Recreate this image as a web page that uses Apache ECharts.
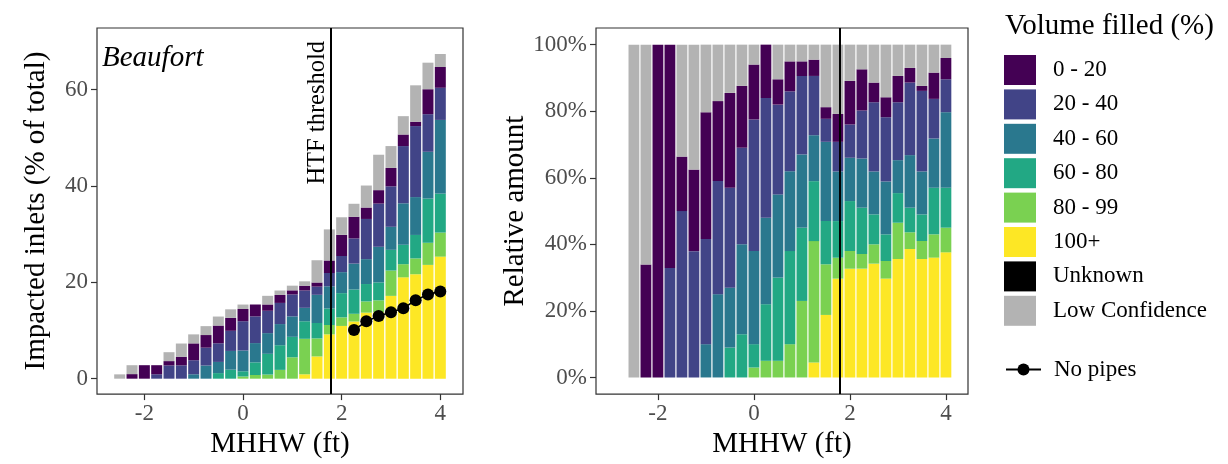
<!DOCTYPE html>
<html><head><meta charset="utf-8">
<script src="https://cdn.jsdelivr.net/npm/echarts@6/dist/echarts.min.js"></script>
<style>html,body{margin:0;padding:0;background:#fff}#c{width:1228px;height:464px}</style>
</head><body><div id="c"></div>
<script>
// ---- data ----
const mhhw = [-2.5,-2.25,-2,-1.75,-1.5,-1.25,-1,-0.75,-0.5,-0.25,0,0.25,0.5,0.75,1,1.25,1.5,1.75,2,2.25,2.5,2.75,3,3.25,3.5,3.75,4];
const vol100     = [0,0,0,0,0,0,0,0,0,0,0,0,0,0,0,0.91,4.62,9.2,10.95,11.87,13.71,13.81,17.19,21.04,21.68,23.62,25.34];
const vol80      = [0,0,0,0,0,0,0,0,0,0,0.46,0.77,0.86,1.83,4.44,7.37,3.74,1.95,1.78,1.6,2.33,2.46,5.26,2.73,3.29,4.59,4.99];
const vol60      = [0,0,0,0,0,0,0,0,1.16,1.87,1.08,2.62,4.3,5.12,4.25,3.64,3.2,3.41,5.03,5.05,3.61,3.72,4.3,4.03,4.87,9.18,8.09];
const vol40      = [0,0,0,0,0,0,0.92,2.73,2.32,3.89,4.31,4.0,4.3,4.39,4.25,2.79,5.85,4.62,4.36,5.37,5.17,7.39,4.78,8.61,7.86,9.71,15.3];
const vol20      = [0,0,0,0.92,2.75,2.77,2.91,3.71,3.87,4.18,6.08,5.54,4.64,4.39,4.55,3.6,1.7,2.76,3.35,5.23,8.34,8.97,8.4,11.88,14.74,7.81,6.67];
const vol0       = [0,0.95,2.8,1.88,0.9,1.79,3.5,2.62,3.68,2.68,2.54,2.47,1.31,1.65,0.85,0.99,0.86,2.6,4.39,4.5,2.37,2.79,3.82,2.4,0.91,5.18,4.31];
const volUnknown = [0,0,0,0,0,0,0,0,0,0,0,0,0,0,0,0,0,0,0,0,0,0,0,0,0,0,0];
const volLowConf = [0.9,1.85,0,0,1.85,2.74,1.87,1.85,1.87,1.78,0.92,0,1.79,0.92,0.97,0.91,4.62,6.45,3.65,2.69,4.57,7.35,4.54,3.81,7.55,5.51,2.7];
const noPipesX = [2.25,2.5,2.75,3,3.25,3.5,3.75,4];
const noPipesY = [10.1,11.9,13.0,13.8,14.6,16.3,17.5,18.1];
const htfThreshold = 1.78;
const xTicks = [-2,0,2,4];
const yTicksLeft = [0,20,40,60];
const yTicksRight = [0,20,40,60,80,100];

// ---- styling ----
const FONT = '"Liberation Serif","Times New Roman",serif';
const stackOrder = [
  ['100+', vol100, '#FDE725'],
  ['80 - 99', vol80, '#7AD151'],
  ['60 - 80', vol60, '#22A884'],
  ['40 - 60', vol40, '#2A788E'],
  ['20 - 40', vol20, '#414487'],
  ['0 - 20', vol0, '#440154'],
  ['Unknown', volUnknown, '#000000'],
  ['Low Confidence', volLowConf, '#b3b3b3']
];
const legendOrder = ['0 - 20','20 - 40','40 - 60','60 - 80','80 - 99','100+','Unknown','Low Confidence'];
const totals = mhhw.map((_, i) => stackOrder.reduce((s, d) => s + d[1][i], 0));

const tickStyle = {show: true, length: 6, lineStyle: {color: '#333', width: 1.2}};
const labelStyle = {fontFamily: FONT, fontSize: 23, color: '#4d4d4d'};
const nameStyle = {fontFamily: FONT, fontSize: 29, color: '#000'};

function xAxis(idx, min, max) {
  return {
    type: 'value', gridIndex: idx, min: min, max: max,
    name: 'MHHW (ft)', nameLocation: 'middle', nameGap: 26, nameTextStyle: nameStyle,
    axisLine: {show: false, onZero: false}, splitLine: {show: false},
    axisTick: Object.assign({customValues: xTicks}, tickStyle),
    axisLabel: Object.assign({customValues: xTicks, margin: 8}, labelStyle)
  };
}
function yAxis(idx, min, max, ticks, name, fmt) {
  return {
    type: 'value', gridIndex: idx, min: min, max: max,
    name: name, nameLocation: 'middle', nameGap: idx === 0 ? 46 : 48, nameTextStyle: nameStyle,
    axisLine: {show: false, onZero: false}, splitLine: {show: false},
    axisTick: Object.assign({customValues: ticks}, tickStyle),
    axisLabel: Object.assign({customValues: ticks, margin: 9, formatter: fmt}, labelStyle)
  };
}

// value in column 0, MHHW in column 1, so the stack is taken on the value
const series = [];
stackOrder.forEach(([name, vals, color], k) => {
  const s = {
    name: name, type: 'bar', stack: 'left', xAxisIndex: 0, yAxisIndex: 0,
    barWidth: 11, itemStyle: {color: color}, emphasis: {disabled: true},
    encode: {x: 1, y: 0},
    data: mhhw.map((x, i) => [vals[i], x])
  };
  if (k === 0) {
    s.markLine = {silent: true, symbol: 'none', label: {show: false},
      lineStyle: {color: '#000', width: 2, type: 'solid'}, data: [{xAxis: htfThreshold}]};
  }
  series.push(s);
});
stackOrder.forEach(([name, vals, color], k) => {
  const s = {
    name: name, type: 'bar', stack: 'right', xAxisIndex: 1, yAxisIndex: 1,
    barWidth: 10.8, itemStyle: {color: color}, emphasis: {disabled: true},
    encode: {x: 1, y: 0},
    data: mhhw.map((x, i) => [totals[i] > 0 ? vals[i] / totals[i] * 100 : 0, x])
  };
  if (k === 0) {
    s.markLine = {silent: true, symbol: 'none', label: {show: false},
      lineStyle: {color: '#000', width: 2, type: 'solid'}, data: [{xAxis: htfThreshold}]};
  }
  series.push(s);
});
series.push({
  name: 'No pipes', type: 'line', xAxisIndex: 0, yAxisIndex: 0, z: 5,
  symbol: 'circle', symbolSize: 12,
  itemStyle: {color: '#000'}, lineStyle: {color: '#000', width: 1.6},
  data: noPipesX.map((x, i) => [x, noPipesY[i]])
});

const chart = echarts.init(document.getElementById('c'), null, {renderer: 'canvas'});
chart.setOption({
  animation: false,
  grid: [
    {left: 97, top: 28, width: 366, height: 369, show: true, borderColor: '#333', borderWidth: 1.2, backgroundColor: 'transparent'},
    {left: 596, top: 28, width: 372, height: 369, show: true, borderColor: '#333', borderWidth: 1.2, backgroundColor: 'transparent'}
  ],
  xAxis: [xAxis(0, -2.96, 4.46), xAxis(1, -3.29, 4.46)],
  yAxis: [
    yAxis(0, -3.2, 72.8, yTicksLeft, 'Impacted inlets (% of total)', v => String(v)),
    yAxis(1, -5, 105, yTicksRight, 'Relative amount', v => v + '%')
  ],
  legend: [
    {orient: 'vertical', left: 1004, top: 55, padding: 0, itemGap: 4.4, itemWidth: 32, itemHeight: 30,
     icon: 'rect', selectedMode: false, data: legendOrder,
     textStyle: {fontFamily: FONT, fontSize: 23, color: '#000', padding: [0, 0, 0, 12]}},
    {orient: 'vertical', left: 1005, top: 358, padding: 0, itemWidth: 35, itemHeight: 15,
     selectedMode: false, data: ['No pipes'],
     textStyle: {fontFamily: FONT, fontSize: 23, color: '#000', padding: [0, 0, 0, 8]}}
  ],
  series: series
});

const p = chart.convertToPixel({xAxisIndex: 0, yAxisIndex: 0}, [htfThreshold, 0]);
chart.setOption({
  graphic: [
    {type: 'text', left: 1005, top: 12, style: {text: 'Volume filled (%)', fontFamily: FONT, fontSize: 29, fill: '#000'}},
    {type: 'text', x: 102, y: 58, style: {text: 'Beaufort', fontFamily: FONT, fontSize: 29, fontStyle: 'italic', fill: '#000', textVerticalAlign: 'middle'}},
    {type: 'text', x: p[0] - 13, y: 41, rotation: Math.PI / 2,
     style: {text: 'HTF threshold', fontFamily: FONT, fontSize: 24.5, fill: '#000', textAlign: 'right', textVerticalAlign: 'middle'}}
  ]
});
</script>
</body></html>
